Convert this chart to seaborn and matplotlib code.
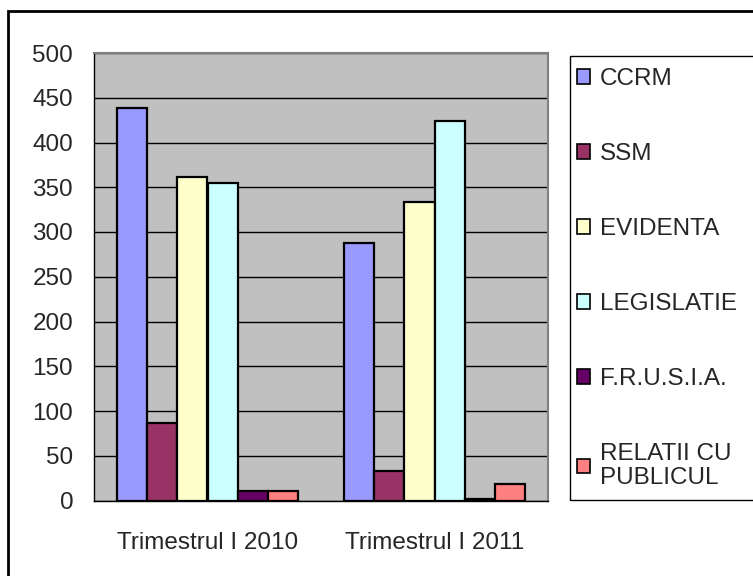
import matplotlib
matplotlib.use("Agg")
import matplotlib.pyplot as plt
import matplotlib.patches as mpatches
import seaborn as sns
import pandas as pd

# date
perioade = ['Trimestrul I 2010', 'Trimestrul I 2011']
servicii = ['CCRM', 'SSM', 'EVIDENTA', 'LEGISLATIE', 'F.R.U.S.I.A.', 'RELATII CU\nPUBLICUL']
val_2010 = [438, 87, 362, 355, 11, 11]
val_2011 = [288, 33, 334, 424, 2, 18]
culori = ['#9999FF', '#993366', '#FFFFCC', '#CCFFFF', '#660066', '#FF8080']

rows = []
for s, a, b in zip(servicii, val_2010, val_2011):
    rows.append({'perioada': perioade[0], 'serviciu': s, 'valoare': a})
    rows.append({'perioada': perioade[1], 'serviciu': s, 'valoare': b})
df = pd.DataFrame(rows)

sns.set_style('white')
plt.rcParams['font.family'] = ['Liberation Sans', 'DejaVu Sans']
FS = 17.5

fig = plt.figure(figsize=(7.53, 5.76), dpi=100)
W, H = 753, 576
ax = fig.add_axes([94 / W, 1 - 500.5 / H, (548 - 94) / W, (500.5 - 53) / H])

sns.barplot(data=df, x='perioada', y='valoare', hue='serviciu',
            hue_order=servicii, order=perioade, palette=culori,
            width=0.8, edgecolor='black', linewidth=1.6,
            saturation=1, legend=False, ax=ax)

ax.set_facecolor('#C0C0C0')
ax.set_ylim(0, 500)
ax.set_xlim(-0.5, 1.5)
ax.set_yticks(range(0, 501, 50))
ax.yaxis.grid(True, color='black', linewidth=1)
ax.set_axisbelow(True)
ax.set_xlabel('')
ax.set_ylabel('')

# tick-urile pe x la marginea categoriilor, etichetele la centru
ax.set_xticks([-0.5, 0.5, 1.5])
ax.set_xticklabels([])
ax.set_xticks([0, 1], minor=True)
ax.set_xticklabels(perioade, minor=True, fontsize=FS)
ax.tick_params(axis='x', which='minor', length=0, pad=23)
ax.tick_params(axis='x', which='major', length=6, direction='out', color='black', width=1)
ax.tick_params(axis='y', length=6, direction='out', color='black', width=1, labelsize=FS, pad=9)

for side in ['top', 'right']:
    ax.spines[side].set_color('#808080')
    ax.spines[side].set_linewidth(1.5)
for side in ['left', 'bottom']:
    ax.spines[side].set_color('black')
    ax.spines[side].set_linewidth(1)

# chenarul exterior
fig.patches.append(mpatches.Rectangle((8 / W, -0.1), 1.1, 1 - 11 / H + 0.1,
                                      transform=fig.transFigure, fill=False,
                                      edgecolor='black', linewidth=2, clip_on=False))
# chenarul legendei
fig.patches.append(mpatches.Rectangle((570 / W, 1 - 500 / H), 0.5, (500 - 56) / H,
                                      transform=fig.transFigure, fill=False,
                                      edgecolor='black', linewidth=1, clip_on=False))

handles = [mpatches.Patch(facecolor=c, edgecolor='black', linewidth=1.2) for c in culori]
leg = fig.legend(handles, servicii, loc='upper left', bbox_to_anchor=(577 / W, 1 - 68 / H),
                 frameon=False, fontsize=FS, handlelength=0.55, handleheight=0.55,
                 handletextpad=0.4, labelspacing=2.18, borderaxespad=0, borderpad=0)
for t in leg.get_texts():
    t.set_linespacing(1.15)

plt.savefig('out.png', dpi=100)
plt.close()
